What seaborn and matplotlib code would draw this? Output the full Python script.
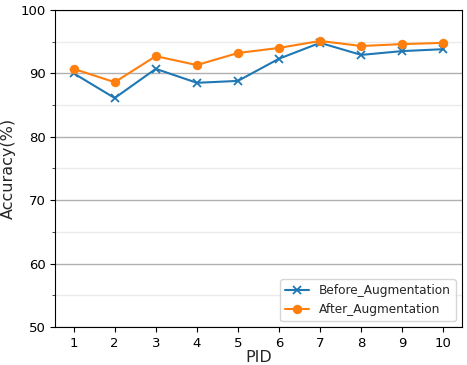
import matplotlib
matplotlib.use("Agg")
import matplotlib.pyplot as plt
import seaborn as sns
import pandas as pd
from matplotlib.ticker import MultipleLocator

pid = [1, 2, 3, 4, 5, 6, 7, 8, 9, 10]
before = [90.0, 86.1, 90.7, 88.5, 88.8, 92.3, 94.8, 92.9, 93.5, 93.8]
after = [90.7, 88.6, 92.7, 91.3, 93.2, 94.0, 95.1, 94.3, 94.6, 94.8]

sns.set_style("ticks")
plt.rcParams['font.family'] = ['DejaVu Sans']

fig = plt.figure(figsize=(4.67, 3.65), dpi=100)
ax = fig.add_axes([0.118, 0.104, 0.871, 0.869])

sns.lineplot(x=pid, y=before, marker="x", color="#1f77b4", label="Before_Augmentation",
             lw=1.5, ms=6, mew=1.3, mec="#1f77b4", ax=ax)
sns.lineplot(x=pid, y=after, marker="o", color="#ff7f0e", label="After_Augmentation",
             lw=1.5, ms=6, mec="#ff7f0e", ax=ax)

ax.set_ylim(50, 100)
ax.set_xlim(0.55, 10.45)
ax.set_xticks(pid)
ax.yaxis.set_major_locator(MultipleLocator(10))
ax.yaxis.set_minor_locator(MultipleLocator(5))
ax.grid(axis="y", which="major", color="#b0b0b0", lw=1)
ax.grid(axis="y", which="minor", color="#ebebeb", lw=1)
ax.set_axisbelow(True)
for s in ax.spines.values():
    s.set_visible(True)
    s.set_color("black")
    s.set_linewidth(0.8)
ax.tick_params(labelsize=9.5, colors="black")
ax.set_xlabel("PID", fontsize=11.5, labelpad=0)
ax.set_ylabel("Accuracy(%)", fontsize=11.5, labelpad=3)
ax.legend(loc="lower right", fontsize=8.7)
fig.savefig("out.png", dpi=100)
